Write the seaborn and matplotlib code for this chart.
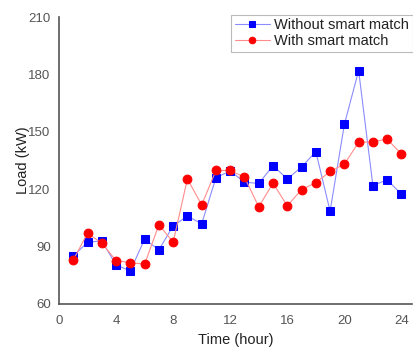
import pandas as pd
import matplotlib.pyplot as plt
import seaborn as sns

sns.set_style("white")
plt.rcParams['font.family'] = ['Liberation Sans', 'DejaVu Sans']

# hourly load values
hours = list(range(1, 25))
load_without = [85, 92.3, 93, 80.4, 77.3, 93.9, 88.3, 100.8, 106, 101.9, 126.1, 129.5,
                123.7, 123, 132.3, 125.4, 131.6, 139.7, 108.5, 153.9, 182, 121.9, 124.9, 117.4]
load_with = [83, 97, 91.8, 82.7, 81.6, 80.8, 101.4, 92.3, 125.4, 111.8, 129.8, 129.8,
             126.3, 110.8, 123.2, 111.3, 119.8, 123.4, 129.3, 133.1, 144.5, 144.8, 146.2, 138.4]
labels = ['Without smart match', 'With smart match']
x_ticks = [0, 4, 8, 12, 16, 20, 24]
y_ticks = [60, 90, 120, 150, 180, 210]

df = pd.DataFrame({'hour': hours, 'without': load_without, 'with': load_with})

fig = plt.figure(figsize=(4.14, 3.49), dpi=100)
ax = fig.add_axes([0.1425, 0.129, 0.853, 0.822])

sns.lineplot(data=df, x='hour', y='without', ax=ax, color='#8c8cff', lw=0.8,
             marker='s', markersize=5.3, markerfacecolor='#0000ff', markeredgecolor='#0000ff',
             label=labels[0])
sns.lineplot(data=df, x='hour', y='with', ax=ax, color='#ff8c8c', lw=0.8,
             marker='o', markersize=6.3, markerfacecolor='#ff0000', markeredgecolor='#ff0000',
             label=labels[1])

ax.set_xlim(0, 24.75)
ax.set_ylim(60, 210)
ax.set_xticks(x_ticks)
ax.set_yticks(y_ticks)
ax.tick_params(labelsize=9.5, colors='#555555', length=0)
ax.tick_params(axis='x', pad=8)
ax.tick_params(axis='y', pad=6)
ax.set_xlabel('Time (hour)', fontsize=10.5, labelpad=4, color='#222222')
ax.set_ylabel('Load (kW)', fontsize=10.5, labelpad=-1, color='#222222')

sns.despine(ax=ax)
for side in ['left', 'bottom']:
    ax.spines[side].set_color('#555555')
    ax.spines[side].set_linewidth(1.2)

leg = ax.legend(loc='upper right', bbox_to_anchor=(0.997, 0.958), bbox_transform=fig.transFigure,
                fontsize=10.5, frameon=True, fancybox=False, edgecolor='#aaaaaa',
                handlelength=2.4, handletextpad=0.3, borderpad=0.25, labelspacing=0.15,
                borderaxespad=0, markerscale=0.75)
leg.get_frame().set_linewidth(0.8)
for t in leg.get_texts():
    t.set_color('#222222')

plt.savefig('out.png', dpi=100)
